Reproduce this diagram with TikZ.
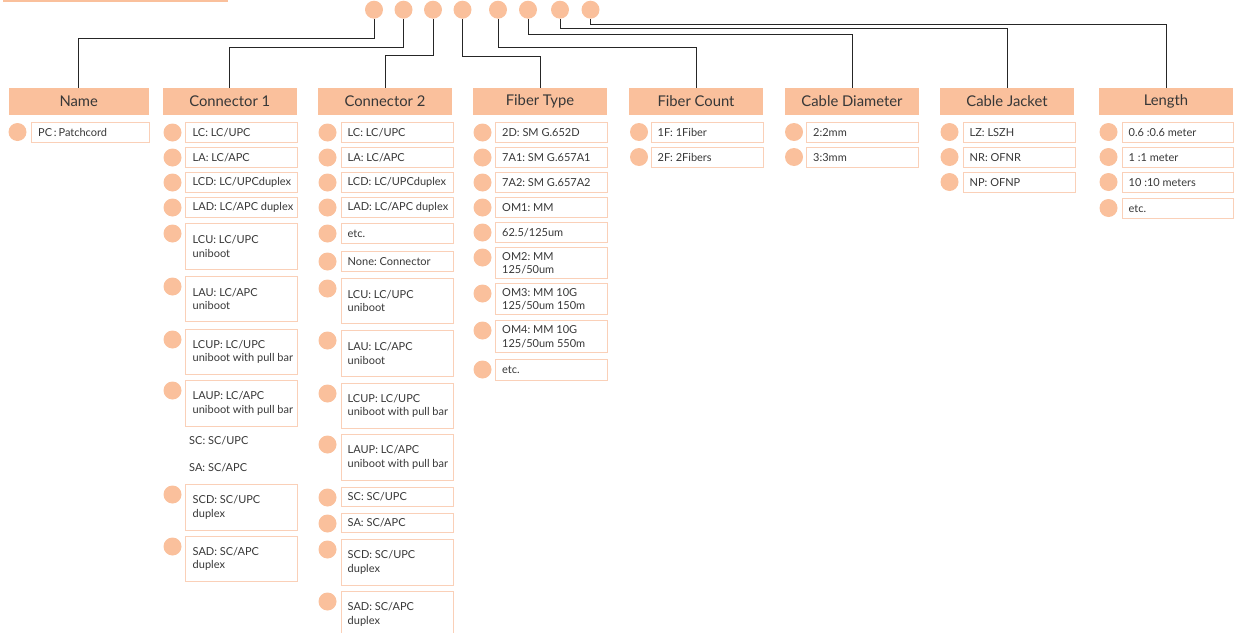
\documentclass[tikz,border=0pt]{standalone}
\usepackage{fontspec}
\setmainfont{Lato}
\usepackage{xcolor}
\usepackage{tikz}
\usetikzlibrary{positioning}
\definecolor{peach}{RGB}{250,192,156}
\definecolor{peachline}{RGB}{250,208,184}
\definecolor{labelgray}{RGB}{55,55,55}
\frenchspacing

\tikzset{
  hdr/.style={fill=peach, text=labelgray, minimum width=134pt, minimum height=27pt,
    inner sep=0pt, font=\fontsize{14.8}{16}\selectfont},
  dot/.style={circle, fill=peach, minimum size=18pt, inner sep=0pt},
  optbox/.style={draw=peachline, line width=1.1pt, anchor=north west,
    minimum width=112pt, inner sep=0pt},
  opttext/.style={text=labelgray, anchor=west, inner sep=0pt, align=left,
    font=\fontsize{11}{13.5}\selectfont},
  link/.style={draw=black!85, line width=0.9pt},
}

\begin{document}
\begin{tikzpicture}[x=1pt,y=-1pt]
        \useasboundingbox (0,0) rectangle (1234,632);
        \fill[peach] (3,-1) rectangle (228,1.5);

        % code digits along the top
        \foreach \x [count=\i] in {374,403.5,433,462.5,498,528,560,590.5}
          \node[dot] (t\i) at (\x,9.7) {};

        % column heads
        \node[hdr, minimum width=140pt] (hname) at (78.75,101.5) {Name};
        \node[hdr] (hcon1) at (229.8,101.5) {Connector 1};
        \node[hdr] (hcon2) at (385,101.5) {Connector 2};
        \node[hdr] (hfiber) at (540,101.5) {Fiber Type};
        \node[hdr] (hcount) at (696,101.5) {Fiber Count};
        \node[hdr] (hdiam) at (852,101.5) {Cable Diameter};
        \node[hdr] (hjacket) at (1007,101.5) {Cable Jacket};
        \node[hdr] (hlength) at (1166,101.5) {Length};

        % elbow lines from each digit to its head
        \foreach \lv [count=\i] in {38,47,55.7,56.7,47,34,28.3,24}
          \coordinate (lv\i) at (0,\lv);
        \foreach \d/\h [count=\i] in {t1/hname,t2/hcon1,t3/hcon2,t4/hfiber,t5/hcount,t6/hdiam,t7/hjacket,t8/hlength}
          \draw[link] (\d.south) |- (\h.north |- lv\i) -- (\h.north);

        % Name
        \node[optbox, minimum width=118pt, minimum height=20pt] (nm-1) at (31,122) {};
        \node[opttext] at ([xshift=7pt]nm-1.west) {PC\,:\,Patchcord};
        \node[dot] at ([xshift=-13.5pt,yshift=-10pt]nm-1.north west) {};

        % Connector 1
        \foreach \top/\h/\t [count=\i] in {122/20/{LC: LC/UPC}, 147/20/{LA: LC/APC},
            172/20/{LCD: LC/UPCduplex}, 197/20/{LAD: LC/APC duplex},
            223/46/{LCU: LC/UPC\\uniboot}, 276/45/{LAU: LC/APC\\uniboot},
            329/45/{LCUP: LC/UPC\\uniboot with pull bar}, 380/46/{LAUP: LC/APC\\uniboot with pull bar},
            484/46/{SCD: SC/UPC\\duplex}, 536/45/{SAD: SC/APC\\duplex}} {
          \node[optbox, minimum height=\h pt] (ca-\i) at (185,\top) {};
          \node[opttext] at ([xshift=7.5pt]ca-\i.west) {\t};
          \node[dot] at ([xshift=-12.5pt,yshift=-10.5pt]ca-\i.north west) {};
        }
        \node[opttext] (ca-sc) at (189,441) {SC: SC/UPC};
        \node[opttext] (ca-sa) at (189,468) {SA: SC/APC};

        % Connector 2
        \foreach \top/\h/\t [count=\i] in {122/20/{LC: LC/UPC}, 147/20/{LA: LC/APC},
            172/20/{LCD: LC/UPCduplex}, 197/20/{LAD: LC/APC duplex},
            223/20/{etc.}, 251/20/{None: Connector},
            278/45/{LCU: LC/UPC\\uniboot}, 330/46/{LAU: LC/APC\\uniboot},
            383/45/{LCUP: LC/UPC\\uniboot with pull bar}, 434/46/{LAUP: LC/APC\\uniboot with pull bar},
            487/19/{SC: SC/UPC}, 513/19/{SA: SC/APC},
            539/46/{SCD: SC/UPC\\duplex}, 591/46/{SAD: SC/APC\\duplex}} {
          \node[optbox, minimum height=\h pt] (cb-\i) at (340.5,\top) {};
          \node[opttext] at ([xshift=7pt]cb-\i.west) {\t};
          \node[dot] at ([xshift=-13pt,yshift=-10.5pt]cb-\i.north west) {};
        }

        % Fiber Type
        \foreach \top/\h/\t [count=\i] in {122/20/{2D: SM G.652D}, 147/20/{7A1: SM G.657A1},
            172/20/{7A2: SM G.657A2}, 197/20/{OM1: MM}, 222/20/{62.5/125um},
            247/31/{OM2: MM\\125/50um}, 283/31/{OM3: MM 10G\\125/50um 150m},
            320/32/{OM4: MM 10G\\125/50um 550m}, 359/21/{etc.}} {
          \node[optbox, minimum height=\h pt] (ft-\i) at (495,\top) {};
          \node[opttext] at ([xshift=7pt]ft-\i.west) {\t};
          \node[dot] at ([xshift=-12.5pt,yshift=-10.5pt]ft-\i.north west) {};
        }

        % Fiber Count
        \foreach \top/\t [count=\i] in {122/{1F: 1Fiber}, 147/{2F: 2Fibers}} {
          \node[optbox, minimum height=20pt] (fc-\i) at (650.5,\top) {};
          \node[opttext] at ([xshift=7pt]fc-\i.west) {\t};
          \node[dot] at ([xshift=-11.5pt,yshift=-10pt]fc-\i.north west) {};
        }

        % Cable Diameter
        \foreach \top/\t [count=\i] in {122/{2:2mm}, 147/{3:3mm}} {
          \node[optbox, minimum height=20pt] (cd-\i) at (806,\top) {};
          \node[opttext] at ([xshift=7pt]cd-\i.west) {\t};
          \node[dot] at ([xshift=-12pt,yshift=-10pt]cd-\i.north west) {};
        }

        % Cable Jacket
        \foreach \top/\t [count=\i] in {122/{LZ: LSZH}, 147/{NR: OFNR}, 172/{NP: OFNP}} {
          \node[optbox, minimum height=20pt] (cj-\i) at (962.5,\top) {};
          \node[opttext] at ([xshift=7pt]cj-\i.west) {\t};
          \node[dot] at ([xshift=-13pt,yshift=-10pt]cj-\i.north west) {};
        }

        % Length
        \foreach \top/\t [count=\i] in {122/{0.6 :0.6 meter}, 147/{1 :1 meter}, 172/{10 :10 meters}, 198/{etc.}} {
          \node[optbox, minimum width=111pt, minimum height=20pt] (ln-\i) at (1121.5,\top) {};
          \node[opttext] at ([xshift=7pt]ln-\i.west) {\t};
          \node[dot] at ([xshift=-13pt,yshift=-10pt]ln-\i.north west) {};
        }
      \end{tikzpicture}
\end{document}
